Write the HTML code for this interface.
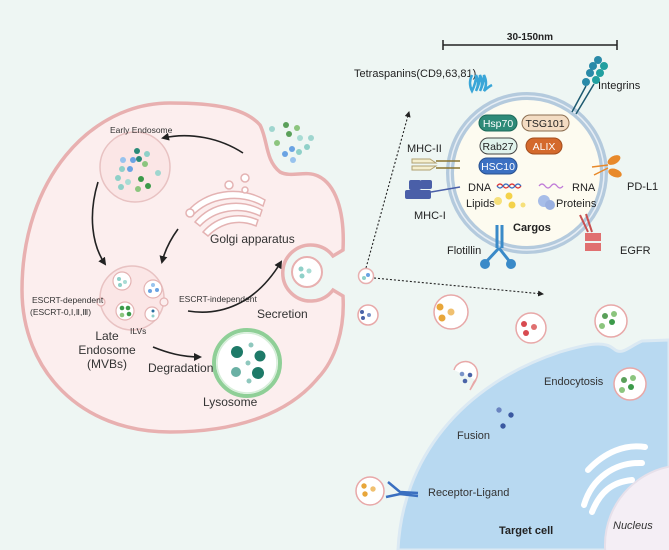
<!DOCTYPE html>
<html><head><meta charset="utf-8"><style>
html,body{margin:0;padding:0;background:#eef6f3;width:669px;height:550px;overflow:hidden;}
svg{display:block;font-family:"Liberation Sans",sans-serif;}
</style></head><body>
<svg width="669" height="550" viewBox="0 0 669 550" xmlns="http://www.w3.org/2000/svg">
<defs>
<marker id="ah" markerWidth="8" markerHeight="8" refX="6" refY="4" orient="auto" markerUnits="userSpaceOnUse"><path d="M0,0 L8,4 L0,8 Z" fill="#222"/></marker>
<marker id="ad" markerWidth="6" markerHeight="6" refX="5" refY="3" orient="auto" markerUnits="userSpaceOnUse"><path d="M0,0 L6,3 L0,6 Z" fill="#222"/></marker>
<clipPath id="tc"><path d="M398,550 C402,460 460,385 560,352 C590,343 605,341 614,349 C622,356 630,346 642,341 L669,340 L669,550 Z"/></clipPath>
</defs>
<rect width="669" height="550" fill="#eef6f3"/>

<!-- Target cell -->
<path d="M398,550 C402,460 460,385 560,352 C590,343 605,341 614,349 C622,356 630,346 642,341 L669,340 L669,550 Z" fill="#b8d9f1" stroke="#dbe9f3" stroke-width="3"/>
<g clip-path="url(#tc)">
<circle cx="685" cy="545" r="80" fill="#f4eef5" stroke="#e6e0ea" stroke-width="2"/>
<g fill="none" stroke="#fff" stroke-width="6" stroke-linecap="round">
<path d="M588,470 C605,452 625,444 645,447"/>
<path d="M584,505 C592,478 615,462 642,463"/>
<path d="M592,512 C600,492 612,482 632,480"/>
</g>
</g>
<text x="613" y="529" font-size="11" font-style="italic" fill="#333">Nucleus</text>
<text x="499" y="534" font-size="11" font-weight="bold" fill="#222">Target cell</text>

<!-- Producing cell -->
<path d="M170,103 C215,103 245,108 260,125 C268,140 265,160 280,172 C292,178 305,170 318,176 C335,184 345,210 343,250 L333,256 A28,28 0 1 0 333,290 L343,296 C345,330 335,360 318,378 C290,412 240,432 170,432 C80,432 22,370 22,290 C22,180 90,103 170,103 Z" fill="#fceeee" stroke="#e8b0b0" stroke-width="3.5"/>

<!-- top dots cluster -->
<g>
<circle cx="272" cy="129" r="3" fill="#9fd6cf"/><circle cx="286" cy="125" r="3" fill="#5aa05a"/><circle cx="297" cy="128" r="3" fill="#8cc57e"/>
<circle cx="289" cy="134" r="3" fill="#5aa05a"/><circle cx="277" cy="143" r="3" fill="#8cc57e"/><circle cx="300" cy="138" r="3" fill="#a8dcd4"/>
<circle cx="311" cy="138" r="3" fill="#9fd6cf"/><circle cx="292" cy="149" r="3" fill="#6aa3e3"/><circle cx="299" cy="152" r="3" fill="#8fd0c8"/>
<circle cx="285" cy="154" r="3" fill="#6aa3e3"/><circle cx="293" cy="160" r="3" fill="#98c3ee"/><circle cx="307" cy="147" r="3" fill="#8fd0c8"/>
</g>

<!-- Early endosome -->
<circle cx="135" cy="167" r="35" fill="#fbe6e6" stroke="#e8c2c2" stroke-width="1.5"/>
<g>
<circle cx="137" cy="151" r="3" fill="#2a8a78"/><circle cx="147" cy="154" r="3" fill="#8fd0c8"/><circle cx="123" cy="160" r="3" fill="#98c3ee"/>
<circle cx="133" cy="160" r="3" fill="#6aa3e3"/><circle cx="139" cy="159" r="3" fill="#2a8a78"/><circle cx="145" cy="164" r="3" fill="#8cc57e"/>
<circle cx="122" cy="169" r="3" fill="#8fd0c8"/><circle cx="130" cy="169" r="3" fill="#6aa3e3"/><circle cx="158" cy="173" r="3" fill="#9fd6cf"/>
<circle cx="118" cy="178" r="3" fill="#8fd0c8"/><circle cx="128" cy="182" r="3" fill="#a8dcd4"/><circle cx="141" cy="179" r="3" fill="#3c9a4a"/>
<circle cx="148" cy="186" r="3" fill="#3c9a4a"/><circle cx="121" cy="187" r="3" fill="#8fd0c8"/><circle cx="138" cy="189" r="3" fill="#8cc57e"/>
</g>
<text x="110" y="133" font-size="8.5" fill="#333">Early Endosome</text>

<!-- Golgi -->
<g fill="#fff" stroke="#e4b3b3" stroke-width="1.5">
<path d="M187,212 C205,190 240,185 265,200 L263,206 C240,193 210,197 192,216 Z"/>
<path d="M195,222 C212,202 240,198 262,210 L260,216 C240,206 215,210 200,226 Z"/>
<path d="M203,232 C218,215 240,212 258,220 L256,226 C240,219 222,222 208,236 Z"/>
<circle cx="190" cy="213" r="4"/><circle cx="229" cy="185" r="4"/><circle cx="245" cy="178" r="4"/><circle cx="245" cy="190" r="3"/>
</g>
<text x="210" y="243" font-size="12" fill="#333">Golgi apparatus</text>

<!-- Late endosome MVB -->
<circle cx="132" cy="298" r="32" fill="#fbe6e6" stroke="#e8c2c2" stroke-width="1.5"/>
<g fill="#fff" stroke="#e4b3b3" stroke-width="1.2">
<circle cx="122" cy="281" r="9"/><circle cx="153" cy="289" r="9"/><circle cx="125" cy="311" r="9"/><circle cx="152" cy="314" r="7"/>
<circle cx="101" cy="302" r="4" fill="#fceeee"/><circle cx="164" cy="302" r="4" fill="#fceeee"/>
</g>
<circle cx="119" cy="279" r="2" fill="#8fd0c8"/><circle cx="125" cy="282" r="2" fill="#a8dcd4"/><circle cx="120" cy="285" r="2" fill="#8fd0c8"/>
<circle cx="153" cy="285" r="2" fill="#98c3ee"/><circle cx="150" cy="291" r="2" fill="#6aa3e3"/><circle cx="157" cy="290" r="2" fill="#6aa3e3"/>
<circle cx="122" cy="308" r="2.3" fill="#3c9a4a"/><circle cx="128" cy="308" r="2.3" fill="#3c9a4a"/><circle cx="122" cy="315" r="2.3" fill="#8cc57e"/><circle cx="129" cy="314" r="2.3" fill="#3c9a4a"/>
<circle cx="153" cy="311" r="1.5" fill="#2a6fa0"/><circle cx="153" cy="316" r="1.5" fill="#8fd0c8"/>
<text x="32" y="303" font-size="8.5" fill="#333">ESCRT-dependent</text>
<text x="30" y="315" font-size="8.5" fill="#333">(ESCRT-0,Ⅰ,Ⅱ,Ⅲ)</text>
<text x="130" y="334" font-size="8.5" fill="#333">ILVs</text>
<text x="107" y="340" font-size="12" fill="#333" text-anchor="middle">Late</text>
<text x="107" y="354" font-size="12" fill="#333" text-anchor="middle">Endosome</text>
<text x="107" y="368" font-size="12" fill="#333" text-anchor="middle">(MVBs)</text>

<!-- secretion vesicle -->
<circle cx="307" cy="272" r="15" fill="#fff" stroke="#e8b0b0" stroke-width="2"/>
<circle cx="301" cy="269" r="2.5" fill="#8fd0c8"/><circle cx="309" cy="271" r="2.5" fill="#a8dcd4"/><circle cx="302" cy="276" r="2.5" fill="#8fd0c8"/>
<text x="179" y="302" font-size="8.5" fill="#333">ESCRT-independent</text>
<text x="257" y="318" font-size="12" fill="#333">Secretion</text>

<!-- Lysosome -->
<circle cx="247" cy="363" r="33" fill="#fff" stroke="#8fcf97" stroke-width="4"/>
<circle cx="247" cy="363" r="30" fill="#fff" stroke="#d6eed9" stroke-width="1.5"/>
<g>
<circle cx="237" cy="352" r="6" fill="#1e7a68"/><circle cx="260" cy="356" r="5.5" fill="#1e7a68"/>
<circle cx="236" cy="372" r="5" fill="#6ab0a4"/><circle cx="258" cy="373" r="6" fill="#1e7a68"/>
<circle cx="251" cy="345" r="2.5" fill="#8fc8be"/><circle cx="248" cy="363" r="2.5" fill="#8fc8be"/><circle cx="249" cy="381" r="2.5" fill="#8fc8be"/>
</g>
<text x="203" y="406" font-size="12" fill="#333">Lysosome</text>
<text x="148" y="372" font-size="12" fill="#333">Degradation</text>

<!-- arrows -->
<g fill="none" stroke="#222" stroke-width="1.6">
<path d="M243,153 C220,138 190,132 163,138" marker-end="url(#ah)"/>
<path d="M98,182 C88,215 92,245 105,264" marker-end="url(#ah)"/>
<path d="M178,229 C170,240 165,250 162,262" marker-end="url(#ah)"/>
<path d="M188,311 C220,316 255,305 281,262" marker-end="url(#ah)"/>
<path d="M153,347 C168,353 182,357 200,357" marker-end="url(#ah)"/>
</g>

<!-- dotted arrows -->
<g fill="none" stroke="#222" stroke-width="1.1" stroke-dasharray="2,2">
<path d="M366,268 L409,112" marker-end="url(#ad)"/>
<path d="M374,278 L543,294" marker-end="url(#ad)"/>
</g>
<circle cx="366" cy="276" r="7.5" fill="#fff" stroke="#e8b0b0" stroke-width="1.5"/>
<circle cx="364" cy="278" r="2" fill="#8fd0c8"/><circle cx="368" cy="275" r="2" fill="#6aa3e3"/>

<!-- scale bar -->
<path d="M443,45 L617,45 M443,40 L443,50 M617,40 L617,50" stroke="#222" stroke-width="1.5" fill="none"/>
<text x="530" y="40" font-size="10" font-weight="bold" fill="#222" text-anchor="middle">30-150nm</text>

<!-- exosome -->
<circle cx="527" cy="173" r="77" fill="#fdfbf0"/>
<circle cx="527" cy="173" r="77" fill="none" stroke="#b4cadd" stroke-width="8"/>
<circle cx="527" cy="173" r="77" fill="none" stroke="#e7eef5" stroke-width="1.5"/>
<g font-size="10.5" text-anchor="middle">
<rect x="479" y="115" width="38" height="16" rx="8" fill="#2e8a78" stroke="#1d6a5a"/><text x="498" y="127" fill="#fff">Hsp70</text>
<rect x="522" y="115" width="47" height="16" rx="8" fill="#f3dcc3" stroke="#8a6d50"/><text x="545" y="127" fill="#222">TSG101</text>
<rect x="480" y="138" width="37" height="16" rx="8" fill="#e0f3ec" stroke="#444"/><text x="498" y="150" fill="#222">Rab27</text>
<rect x="526" y="138" width="36" height="16" rx="8" fill="#d4692c" stroke="#a34e1e"/><text x="544" y="150" fill="#fff">ALIX</text>
<rect x="479" y="158" width="38" height="16" rx="8" fill="#3b70c2" stroke="#28508f"/><text x="498" y="170" fill="#fff">HSC10</text>
</g>
<path d="M497,186 q3,-4 6,0 t6,0 t6,0 t6,0" stroke="#d33" stroke-width="1.2" fill="none"/>
<path d="M497,186 q3,4 6,0 t6,0 t6,0 t6,0" stroke="#3a6fc0" stroke-width="1.2" fill="none"/>
<path d="M539,186 q3,-4 6,0 t6,0 t6,0 t6,0" stroke="#c07ad8" stroke-width="1.2" fill="none"/>
<circle cx="509" cy="196" r="3.5" fill="#f4d24a"/><circle cx="498" cy="201" r="4" fill="#f6e07a"/><circle cx="512" cy="205" r="3.5" fill="#f4d24a"/><circle cx="523" cy="205" r="2.5" fill="#f6e07a"/>
<circle cx="544" cy="201" r="6" fill="#a7bde8"/><circle cx="550" cy="205" r="5" fill="#9ab0e0"/>
<g font-size="11" fill="#222">
<text x="468" y="191">DNA</text><text x="572" y="191">RNA</text>
<text x="466" y="207">Lipids</text><text x="556" y="207">Proteins</text>
<text x="513" y="231" font-weight="bold">Cargos</text>
<text x="354" y="77">Tetraspanins(CD9,63,81)</text>
<text x="598" y="89">Integrins</text>
<text x="407" y="152">MHC-II</text>
<text x="414" y="219">MHC-I</text>
<text x="627" y="190">PD-L1</text>
<text x="447" y="254">Flotillin</text>
<text x="620" y="254">EGFR</text>
</g>
<!-- membrane proteins -->
<path d="M472,75 q-4,8 0,16 q4,-8 4,-16 q4,8 0,16 q4,-8 4,-16 q4,8 0,16 q4,-8 4,-16 q4,8 0,16 q4,-4 8,-6" stroke="#3aa6d8" stroke-width="2.5" fill="none"/>
<g fill="#2a8aa8"><circle cx="598" cy="60" r="4"/><circle cx="593" cy="66" r="4"/><circle cx="590" cy="73" r="4"/><circle cx="604" cy="66" r="4" fill="#22a0a0"/><circle cx="600" cy="73" r="4" fill="#22a0a0"/><circle cx="596" cy="80" r="4" fill="#22a0a0"/><circle cx="586" cy="82" r="4"/></g>
<path d="M586,86 L572,112 M594,84 L576,114" stroke="#1d5a70" stroke-width="1.5"/>
<path d="M412,159 h18 l6,4 h-24 z M412,170 h18 l6,-4 h-24 z" fill="#f5efcf" stroke="#b0a070"/>
<path d="M436,161 H460 M436,168 H460" stroke="#8a7430" stroke-width="1.5"/>
<g fill="#4a5fa8"><rect x="409" y="180" width="12" height="10" rx="2"/><rect x="420" y="180" width="12" height="9" rx="2"/><rect x="405" y="190" width="26" height="9" rx="2"/></g>
<path d="M431,192 L460,187" stroke="#4a5fa8" stroke-width="1.5"/>
<path d="M608,165 L592,167 M608,168 L594,175" stroke="#e8892a" stroke-width="1.5"/>
<ellipse cx="614" cy="160" rx="7" ry="4" fill="#e8892a" transform="rotate(-30 614 160)"/><ellipse cx="615" cy="173" rx="7" ry="4" fill="#e8892a" transform="rotate(20 615 173)"/>
<path d="M497,225 L497,248 M502,225 L502,248" stroke="#3a8ac8" stroke-width="3"/>
<path d="M499,248 L486,262 M499,248 L510,262" stroke="#3a8ac8" stroke-width="3"/>
<circle cx="485" cy="264" r="5" fill="#3a8ac8"/><circle cx="511" cy="264" r="5" fill="#3a8ac8"/>
<path d="M580,215 L588,232 M586,214 L592,232" stroke="#c85050" stroke-width="2"/>
<rect x="585" y="233" width="16" height="8" fill="#e07070"/><rect x="585" y="243" width="16" height="8" fill="#e07070"/>

<!-- extracellular vesicles -->
<g stroke="#e8a8a8" stroke-width="1.5" fill="#fff">
<circle cx="451" cy="312" r="17"/><circle cx="531" cy="328" r="15"/><circle cx="611" cy="321" r="16"/>
<circle cx="630" cy="384" r="16"/><circle cx="370" cy="491" r="14"/>
<circle cx="368" cy="315" r="10"/>
</g>
<path d="M454,370 A12,12 0 1 1 474,382 L470,390 L476,380" fill="#fff" stroke="#e8a8a8" stroke-width="1.5"/>
<circle cx="462" cy="374" r="2.3" fill="#7a94c8"/><circle cx="470" cy="375" r="2.3" fill="#4a64a8"/><circle cx="465" cy="381" r="2.3" fill="#4a64a8"/>
<circle cx="362" cy="312" r="2" fill="#4a64a8"/><circle cx="369" cy="315" r="2" fill="#7a94c8"/><circle cx="363" cy="318" r="2" fill="#4a64a8"/>
<circle cx="440" cy="307" r="3.5" fill="#e8a63a"/><circle cx="451" cy="312" r="3.5" fill="#f0c070"/><circle cx="442" cy="318" r="3.5" fill="#e8a63a"/>
<circle cx="524" cy="324" r="3" fill="#d84a50"/><circle cx="534" cy="327" r="3" fill="#e07070"/><circle cx="526" cy="333" r="3" fill="#d84a50"/>
<circle cx="605" cy="316" r="3" fill="#5aa05a"/><circle cx="614" cy="314" r="3" fill="#8cc57e"/><circle cx="612" cy="322" r="3" fill="#3c9a4a"/><circle cx="602" cy="326" r="3" fill="#8cc57e"/>
<circle cx="624" cy="380" r="3" fill="#5aa05a"/><circle cx="633" cy="378" r="3" fill="#8cc57e"/><circle cx="631" cy="387" r="3" fill="#3c9a4a"/><circle cx="622" cy="390" r="3" fill="#8cc57e"/>
<circle cx="364" cy="486" r="2.7" fill="#e8a63a"/><circle cx="373" cy="489" r="2.7" fill="#f0c070"/><circle cx="365" cy="494" r="2.7" fill="#e8a63a"/>
<circle cx="499" cy="410" r="2.7" fill="#6a84c0"/><circle cx="511" cy="415" r="2.7" fill="#3a58a0"/><circle cx="503" cy="426" r="2.7" fill="#3a58a0"/>
<path d="M388,482 L400,492 L418,493 M386,497 L400,494 L418,496" stroke="#3a6fc0" stroke-width="2.5" fill="none"/>
<g font-size="11" fill="#333">
<text x="544" y="385">Endocytosis</text>
<text x="457" y="439">Fusion</text>
<text x="428" y="496">Receptor-Ligand</text>
</g>
</svg>
</body></html>
